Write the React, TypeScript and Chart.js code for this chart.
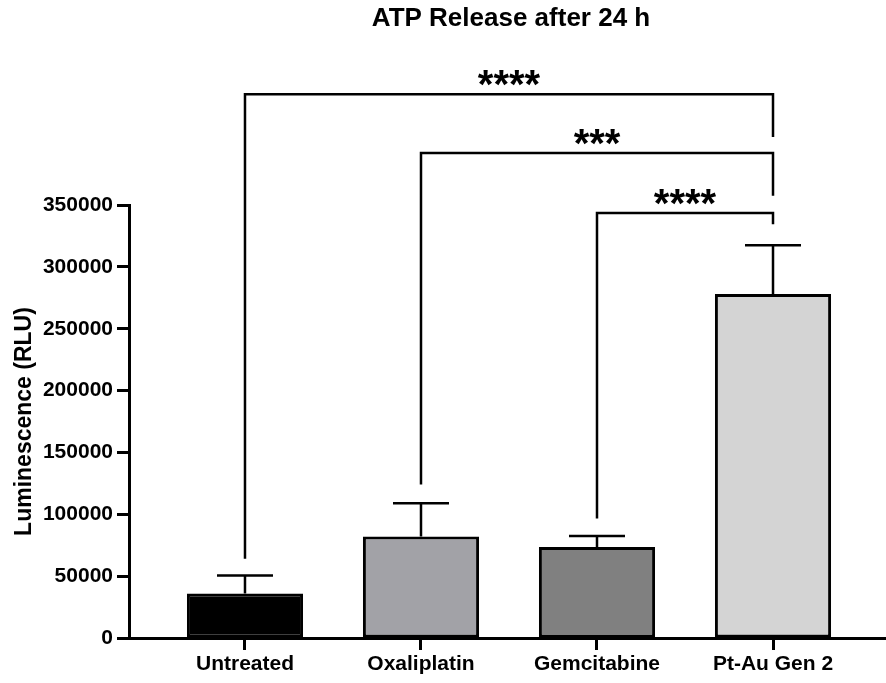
import React, { useEffect, useRef } from 'react';
import { Chart, registerables } from 'chart.js';

Chart.register(...registerables);

const categories = ['Untreated', 'Oxaliplatin', 'Gemcitabine', 'Pt-Au Gen 2'];
const meanValues = [36000, 82000, 73500, 278000];
const errorValues = [14500, 27000, 9000, 39500];
const barColors = ['#000000', '#a2a2a7', '#808080', '#d4d4d4'];
const yTickValues = [0, 50000, 100000, 150000, 200000, 250000, 300000, 350000];

const bracketFrom = [0, 1, 2];
const bracketTo = [3, 3, 3];
const bracketLevels = [439500, 392000, 343500];
const bracketFromEnds = [64000, 124000, 96500];
const bracketToEnds = [405000, 357500, 334500];
const bracketLabels = ['****', '***', '****'];

const chartTitle = 'ATP Release after 24 h';
const yAxisTitle = 'Luminescence (RLU)';

const FONT = "'Liberation Sans', Arial, sans-serif";

const annotations = {
  id: 'annotations',
  afterDatasetsDraw(chart: any) {
    const ctx = chart.ctx;
    const xs = chart.scales.x;
    const ys = chart.scales.y;
    ctx.save();
    ctx.strokeStyle = '#000';
    ctx.lineWidth = 2.5;
    ctx.lineJoin = 'miter';
    // error bars (upper only)
    meanValues.forEach((m, i) => {
      const cx = xs.getPixelForValue(i + 1);
      const base = ys.getPixelForValue(m);
      const top = ys.getPixelForValue(m + errorValues[i]);
      ctx.beginPath();
      ctx.moveTo(cx, base);
      ctx.lineTo(cx, top);
      ctx.moveTo(cx - 28, top);
      ctx.lineTo(cx + 28, top);
      ctx.stroke();
    });
    // significance brackets
    bracketFrom.forEach((f, k) => {
      const x1 = xs.getPixelForValue(f + 1);
      const x2 = xs.getPixelForValue(bracketTo[k] + 1);
      const yl = ys.getPixelForValue(bracketLevels[k]);
      const y1 = ys.getPixelForValue(bracketFromEnds[k]);
      const y2 = ys.getPixelForValue(bracketToEnds[k]);
      ctx.beginPath();
      ctx.moveTo(x1, y1);
      ctx.lineTo(x1, yl);
      ctx.lineTo(x2, yl);
      ctx.lineTo(x2, y2);
      ctx.stroke();
      ctx.fillStyle = '#000';
      ctx.font = `bold 40px ${FONT}`;
      ctx.textAlign = 'center';
      ctx.textBaseline = 'alphabetic';
      ctx.fillText(bracketLabels[k], (x1 + x2) / 2, yl + 4);
    });
    ctx.restore();
  },
  afterDraw(chart: any) {
    const ctx = chart.ctx;
    ctx.save();
    ctx.fillStyle = '#000';
    ctx.font = `bold 26px ${FONT}`;
    ctx.textAlign = 'center';
    ctx.textBaseline = 'middle';
    ctx.fillText(chartTitle, 511, 19);
    ctx.restore();
  },
};

export default function App() {
  const ref = useRef<HTMLCanvasElement | null>(null);

  useEffect(() => {
    if (!ref.current) return;
    const chart = new Chart(ref.current, {
      type: 'bar',
      data: {
        datasets: [
          {
            data: categories.map((_, i) => ({ x: i + 1, y: meanValues[i] })) as any,
            backgroundColor: barColors,
            borderColor: '#000',
            borderWidth: 3,
            borderSkipped: false,
            barPercentage: 0.66,
            categoryPercentage: 1,
          },
        ],
      },
      options: {
        animation: false,
        responsive: false,
        devicePixelRatio: 1,
        layout: { padding: { top: 205, left: 0, right: 0, bottom: 0 } },
        plugins: {
          legend: { display: false },
          title: { display: false },
          tooltip: { enabled: false },
        },
        scales: {
          x: {
            type: 'linear',
            offset: false,
            min: 0.341,
            max: 4.642,
            afterFit: (s: any) => {
              s.height = 45;
            },
            afterBuildTicks: (s: any) => {
              s.ticks = categories.map((_, i) => ({ value: i + 1 }));
            },
            grid: {
              offset: false,
              drawOnChartArea: false,
              drawTicks: true,
              tickLength: 12,
              tickWidth: 3,
              tickColor: '#000',
            },
            border: { display: true, color: '#000', width: 3 },
            ticks: {
              autoSkip: false,
              maxRotation: 0,
              padding: 2,
              color: '#000',
              font: { family: FONT, size: 21, weight: 'bold' },
              callback: (v: any) => categories[Math.round(v) - 1] ?? '',
            },
          },
          y: {
            min: 0,
            max: 350000,
            afterFit: (s: any) => {
              s.width = 129;
            },
            afterBuildTicks: (s: any) => {
              s.ticks = yTickValues.map((v) => ({ value: v }));
            },
            grid: {
              drawOnChartArea: false,
              drawTicks: true,
              tickLength: 12,
              tickWidth: 3,
              tickColor: '#000',
            },
            border: { display: true, color: '#000', width: 3 },
            ticks: {
              padding: 4,
              color: '#000',
              font: { family: FONT, size: 21, weight: 'bold' },
              callback: (v: any) => String(v),
            },
            title: {
              display: true,
              text: yAxisTitle,
              color: '#000',
              padding: { top: 11, bottom: 0 },
              font: { family: FONT, size: 23, weight: 'bold' },
            },
          },
        },
      },
      plugins: [annotations],
    });
    return () => chart.destroy();
  }, []);

  return (
    <div style={{ position: 'fixed', left: 0, top: 0, width: 886, height: 683, background: '#fff' }}>
      <canvas ref={ref} width={886} height={683} style={{ display: 'block' }} />
    </div>
  );
}
